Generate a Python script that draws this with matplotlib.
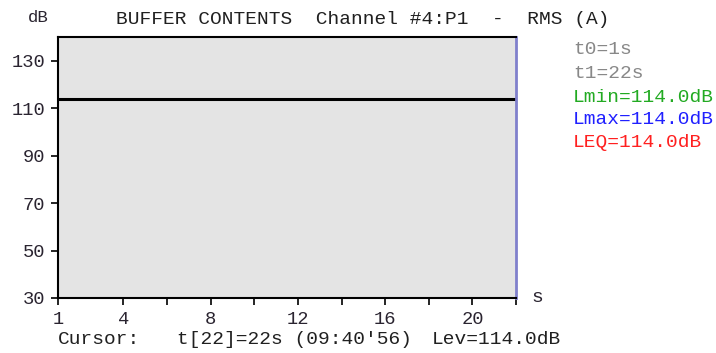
import matplotlib.pyplot as plt

plt.rcParams['font.family'] = ['Liberation Mono', 'DejaVu Sans Mono']

# 数据
t_values = [1, 22]
level_db = [114.0, 114.0]
x_ticks = [1, 4, 8, 12, 16, 20]
x_minor = [6, 10, 14, 18, 22]
y_ticks = [30, 50, 70, 90, 110, 130]
title_text = "BUFFER CONTENTS  Channel #4:P1  -  RMS (A)"
info_texts = ["t0=1s", "t1=22s", "Lmin=114.0dB", "Lmax=114.0dB", "LEQ=114.0dB"]
info_colors = ["#888888", "#888888", "#22aa22", "#2020ff", "#ff2020"]
cursor_parts = ["Cursor:", "t[22]=22s (09:40'56)", "Lev=114.0dB"]

fs = 14
txt_col = "#2a2430"

fig = plt.figure(figsize=(7.16, 3.53), dpi=100)
ax = fig.add_axes([58 / 716, 1 - 298 / 353, (516 - 58) / 716, (298 - 37) / 353])
ax.set_facecolor("#e4e4e4")

ax.plot(t_values, level_db, color="black", linewidth=2.2, solid_capstyle="butt")

ax.set_xlim(1, 22)
ax.set_ylim(30, 140)
ax.set_xticks(x_ticks)
ax.set_xticks(x_minor, minor=True)
ax.set_yticks(y_ticks)
ax.tick_params(axis="both", which="both", direction="out", length=5, width=1.2,
               colors="black", labelcolor=txt_col, labelsize=fs - 0.5, pad=4)
ax.tick_params(axis="x", pad=4)

for side in ["left", "top", "bottom"]:
    ax.spines[side].set_color("black")
    ax.spines[side].set_linewidth(1.5)
ax.spines["right"].set_color("#8080cc")
ax.spines["right"].set_linewidth(2)

fig.text(38 / 716, 1 - 17 / 353, "dB", ha="center", va="center", fontsize=fs - 1.5, color=txt_col)
fig.text(116 / 716, 1 - 20 / 353, title_text, ha="left", va="center", fontsize=fs, color="#202020")
fig.text(537 / 716, 1 - 297 / 353, "s", ha="center", va="center", fontsize=fs, color=txt_col)

info_y = [50, 73, 97, 120, 143]
for s, c, y in zip(info_texts, info_colors, info_y):
    fig.text(573 / 716, 1 - y / 353, s, ha="left", va="center", fontsize=fs, color=c)

cursor_x = [58, 177, 432]
for s, x in zip(cursor_parts, cursor_x):
    fig.text(x / 716, 1 - 340 / 353, s, ha="left", va="center", fontsize=fs, color="#202020")

fig.savefig("out.png", dpi=100, facecolor="white")
